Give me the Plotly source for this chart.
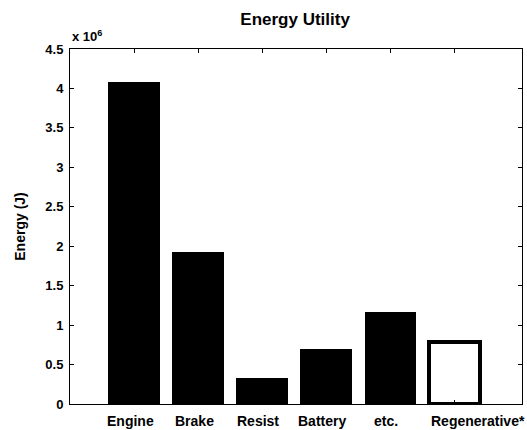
import plotly.graph_objects as go

categories = ["Engine", "Brake", "Resist", "Battery", "etc.", "Regenerative*"]
energy_j = [4.08e6, 1.93e6, 0.33e6, 0.70e6, 1.17e6, 0.78e6]
y_tick_values = [0, 0.5, 1, 1.5, 2, 2.5, 3, 3.5, 4, 4.5]
y_tick_labels = ["0", "0.5", "1", "1.5", "2", "2.5", "3", "3.5", "4", "4.5"]

positions = list(range(1, len(categories) + 1))
fills = ["black"] * 5 + ["white"]
line_widths = [0] * 5 + [4]
BAR_W = 0.8

FONT = "Liberation Sans, Arial, Helvetica, sans-serif"

fig = go.Figure()
fig.add_trace(go.Bar(
    x=positions, y=energy_j, width=BAR_W,
    marker=dict(color=fills, line=dict(color="black", width=line_widths)),
    showlegend=False,
))

fig.update_layout(
    width=527, height=430,
    margin=dict(l=70, r=5, t=49, b=26),
    paper_bgcolor="white", plot_bgcolor="white",
    font=dict(family=FONT, color="black", size=13),
    title=dict(text="<b>Energy Utility</b>", x=0.56, xanchor="center",
               y=0.955, yanchor="middle", font=dict(size=17, family=FONT)),
    bargap=0,
)
fig.update_xaxes(
    range=[0, 7.06], tickvals=positions, showticklabels=False,
    showline=True, linecolor="black", linewidth=1, mirror="ticks",
    ticks="inside", ticklen=4, tickcolor="black", showgrid=False,
    zeroline=False,
)
fig.update_yaxes(
    range=[0, 4.5e6], tickvals=[v * 1e6 for v in y_tick_values],
    ticktext=[f"<b>{t}</b>" for t in y_tick_labels],
    showline=True, linecolor="black", linewidth=1, mirror="ticks",
    ticks="inside", ticklen=4, tickcolor="black", showgrid=False,
    zeroline=False, tickfont=dict(size=13), ticklabelstandoff=3,
    title=dict(text="<b>Energy (J)</b>", font=dict(size=14), standoff=16),
)

# category labels under the bars (the last one starts at its bar's left edge)
for i, (pos, name) in enumerate(zip(positions, categories)):
    last = i == len(categories) - 1
    fig.add_annotation(
        text=f"<b>{name}</b>", xref="x", yref="paper",
        x=pos - BAR_W / 2 if last else pos - 0.06, y=0,
        xanchor="left" if last else "center", yanchor="top",
        showarrow=False, font=dict(size=14), yshift=-7,
    )

fig.add_annotation(
    text="<b>x 10<sup>6</sup></b>", xref="paper", yref="paper",
    x=0, y=1, xanchor="left", yanchor="bottom", showarrow=False,
    font=dict(size=13), yshift=3,
)

fig.write_html("out.html")
